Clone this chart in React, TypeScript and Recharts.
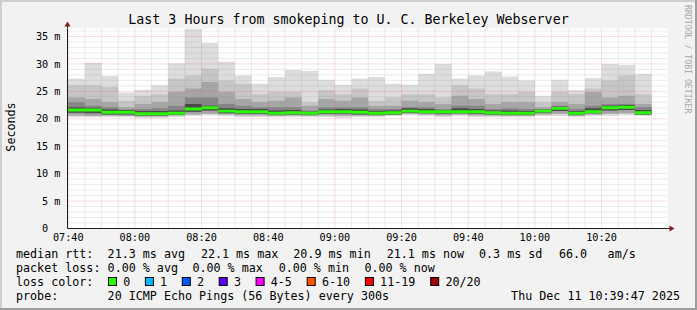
import React from 'react';
import { ComposedChart, Area, XAxis, YAxis, CartesianGrid, ReferenceLine, ReferenceDot } from 'recharts';

// ---- categories (5-minute slots, start of each bar) ----
const slots = [
  '07:40', '07:45', '07:50', '07:55', '08:00', '08:05', '08:10', '08:15', '08:20', '08:25',
  '08:30', '08:35', '08:40', '08:45', '08:50', '08:55', '09:00', '09:05', '09:10', '09:15',
  '09:20', '09:25', '09:30', '09:35', '09:40', '09:45', '09:50', '09:55', '10:00', '10:05',
  '10:10', '10:15', '10:20', '10:25', '10:30',
];
const slotEnd = '10:35';
const graphStart = '07:39:47';
const graphEnd = '10:39:47';

// ---- series (ms) ----
const maxRtt = [27.3, 30.2, 27.8, 24.8, 25.3, 26.1, 30.1, 36.4, 33.8, 30.4, 27.9, 26.4, 27.6, 28.9, 28.7, 27.1, 26.2, 27.3, 27.6, 26.4, 26.2, 28.2, 30.0, 27.3, 27.9, 28.6, 27.7, 27.0, 24.2, 27.1, 25.2, 27.4, 30.0, 29.8, 28.2];
const upper2 = [26.1, 26.1, 25.8, 23.3, 24.2, 24.5, 27.3, 27.9, 29.1, 27.0, 26.4, 24.5, 24.9, 24.9, 23.0, 25.2, 24.5, 25.5, 23.3, 23.9, 24.5, 24.5, 23.9, 26.1, 25.5, 24.5, 24.5, 24.9, 23.0, 24.9, 24.5, 25.5, 27.0, 27.9, 24.5];
const upper3 = [23.9, 23.6, 23.0, 22.1, 22.7, 23.0, 24.9, 25.5, 26.7, 24.9, 23.6, 23.0, 23.3, 23.9, 22.4, 23.6, 23.3, 23.9, 22.4, 22.4, 23.3, 23.0, 22.7, 24.2, 23.6, 22.7, 23.0, 23.0, 22.1, 23.0, 22.7, 24.9, 23.9, 24.2, 22.7];
const upper4 = [23.0, 22.4, 22.1, 21.7, 21.8, 21.9, 22.4, 23.9, 23.9, 22.7, 22.4, 22.1, 22.1, 22.1, 21.5, 22.1, 22.1, 22.1, 21.8, 21.8, 22.1, 22.1, 21.8, 22.4, 22.4, 21.8, 21.9, 21.8, 21.6, 22.4, 21.8, 22.4, 22.7, 22.7, 22.1];
const upper5 = [22.1, 22.0, 21.7, 21.6, 21.4, 21.4, 21.5, 22.7, 22.4, 21.9, 21.8, 21.8, 21.5, 21.6, 21.3, 21.7, 21.8, 21.7, 21.4, 21.5, 21.9, 21.8, 21.6, 21.9, 21.8, 21.5, 21.5, 21.4, 21.7, 22.2, 21.4, 21.9, 22.4, 22.5, 21.6];
const medianRtt = [21.6, 21.6, 21.2, 21.2, 20.9, 20.9, 21.0, 21.8, 22.0, 21.4, 21.3, 21.3, 21.0, 21.1, 21.0, 21.3, 21.3, 21.2, 21.0, 21.1, 21.4, 21.3, 21.3, 21.3, 21.3, 21.1, 21.0, 21.0, 21.4, 21.9, 21.0, 21.3, 22.0, 22.1, 21.1];
const innerRtt = [21.1, 21.0, 20.8, 20.8, 20.6, 20.6, 20.7, 21.3, 21.5, 21.0, 20.9, 20.9, 20.7, 20.8, 20.7, 20.9, 20.9, 20.8, 20.7, 20.8, 21.1, 21.0, 20.9, 21.0, 20.9, 20.8, 20.7, 20.7, 21.1, 21.4, 20.7, 21.0, 21.5, 21.6, 20.8];
const lowerRtt = [20.6, 20.5, 20.6, 20.5, 20.4, 20.4, 20.6, 20.8, 20.9, 20.8, 20.6, 20.6, 20.5, 20.6, 20.5, 20.6, 20.5, 20.6, 20.5, 20.7, 20.9, 20.8, 20.6, 20.8, 20.6, 20.6, 20.5, 20.5, 20.8, 20.9, 20.5, 20.8, 20.9, 21.0, 20.8];
const minRtt = [20.3, 20.3, 20.3, 20.3, 20.1, 20.1, 20.3, 20.5, 20.6, 20.5, 20.3, 20.3, 20.3, 20.3, 20.3, 20.3, 20.1, 20.3, 20.3, 20.5, 20.6, 20.5, 20.3, 20.5, 20.3, 20.3, 20.3, 20.3, 20.5, 20.5, 20.3, 20.5, 20.5, 20.6, 20.5];

// ---- tick labels ----
const xTickLabels = ['07:40', '08:00', '08:20', '08:40', '09:00', '09:20', '09:40', '10:00', '10:20'];
const yTickValues = [0, 5, 10, 15, 20, 25, 30, 35];
const yTickLabels = ['0\u00a0\u00a0', '5 m', '10 m', '15 m', '20 m', '25 m', '30 m', '35 m'];
const yTop = 36.46;

// ---- legend texts ----
const title = 'Last 3 Hours from smokeping to U. C. Berkeley Webserver';
const rttRow = ['median rtt:', '21.3 ms avg', '22.1 ms max', '20.9 ms min', '21.1 ms now', '0.3 ms sd', '66.0', 'am/s'];
const lossRow = ['packet loss:', '0.00 % avg', '0.00 % max', '0.00 % min', '0.00 % now'];
const lossLabels = ['0', '1', '2', '3', '4-5', '6-10', '11-19', '20/20'];
const lossColors = ['#26ff00', '#00b8ff', '#0059ff', '#5e00ff', '#ff00ff', '#ff5500', '#ff0000', '#a10000'];
const probeText = '20 ICMP Echo Pings (56 Bytes) every 300s';
const dateText = 'Thu Dec 11 10:39:47 2025';

const FONT = '"DejaVu Sans Mono", monospace';

function toMin(s: string) {
  const p = s.split(':').map(Number);
  return p[0] * 60 + p[1] + (p[2] || 0) / 60;
}

const xMin = toMin(graphStart);
const xMax = toMin(graphEnd);

const rows: any[] = slots.map((s, i) => ({
  t: toMin(s),
  A: [minRtt[i], maxRtt[i]],
  B: [lowerRtt[i], upper2[i]],
  C: [lowerRtt[i], upper3[i]],
  D: [innerRtt[i], upper4[i]],
  E: [innerRtt[i], upper5[i]],
  G: [medianRtt[i] - 0.27, medianRtt[i] + 0.27],
}));
rows.push({ ...rows[rows.length - 1], t: toMin(slotEnd) });

const xTicks = xTickLabels.map(toMin);
const allSlotMins = [...slots, slotEnd].map(toMin);
const xMinor = allSlotMins.filter((m) => !xTicks.some((t) => Math.abs(t - m) < 0.01));
const yMinor: number[] = [];
for (let v = 1; v < yTop; v++) if (v % 5 !== 0) yMinor.push(v);
const yMajor = yTickValues.filter((v) => v > 0);

const GRID = '#8f8f8f';
const MGRID = '#de4f4f';

const XArrow = (p: any) => {
  const { cx, cy } = p;
  return (
    <g>
      <line x1={cx} y1={cy} x2={cx + 3} y2={cy} stroke="#1f1f1f" strokeWidth={1} />
      <polygon points={`${cx + 2},${cy - 3} ${cx + 7},${cy} ${cx + 2},${cy + 3}`} fill="#801f1f" />
    </g>
  );
};
const YArrow = (p: any) => {
  const { cx, cy } = p;
  return (
    <g>
      <line x1={cx} y1={cy} x2={cx} y2={cy - 3} stroke="#1f1f1f" strokeWidth={1} />
      <polygon points={`${cx - 3},${cy - 2} ${cx},${cy - 7} ${cx + 3},${cy - 2}`} fill="#801f1f" />
    </g>
  );
};

const YTick = (p: any) => {
  const idx = yTickValues.indexOf(p.payload.value);
  return (
    <text x={p.x} y={p.y} dy="0.355em" textAnchor="end" fontFamily={FONT} fontSize={10.2} fill="#000" style={{ whiteSpace: 'pre' }}>
      {idx >= 0 ? yTickLabels[idx] : ''}
    </text>
  );
};

const xLabelFor = (v: number) => {
  const i = xTicks.findIndex((t) => Math.abs(t - v) < 0.01);
  return i >= 0 ? xTickLabels[i] : '';
};

export default function App() {
  const charW = 7.1;
  let bx = 108;
  const lossItems = lossLabels.map((l, i) => {
    const boxX = bx;
    const labelX = boxX + 15.2;
    bx = labelX + l.length * charW + 14.6;
    return { l, c: lossColors[i], boxX, labelX };
  });
  const rttX = [16, 107.6, 200.9, 293.3, 386.7, 479, 559, 607.6];
  const lossX = [16, 107.6, 192.4, 278.7, 364.4];
  const textProps = { fontFamily: FONT, fontSize: 11.7, fill: '#000' };
  return (
    <div style={{ position: 'absolute', left: 0, top: 0, width: 697, height: 310, background: '#f2f2f2', overflow: 'hidden' }}>
      <svg width={697} height={310} style={{ position: 'absolute', left: 0, top: 0 }}>
        <rect x={0} y={0} width={697} height={310} fill="#f2f2f2" />
        <rect x={0} y={0} width={697} height={2} fill="#cfcfcf" />
        <rect x={0} y={0} width={2} height={310} fill="#cfcfcf" />
        <rect x={0} y={308} width={697} height={2} fill="#9e9e9e" />
        <rect x={695} y={0} width={2} height={310} fill="#9e9e9e" />
      </svg>
      <div style={{ position: 'absolute', left: 0, top: 0 }}>
        <ComposedChart width={697} height={310} data={rows} margin={{ top: 28.5, right: 29.5, bottom: 0, left: 0 }}>
          <CartesianGrid horizontal={false} vertical={false} fill="#ffffff" stroke="none" />
          <XAxis
            type="number"
            dataKey="t"
            domain={[xMin, xMax]}
            allowDataOverflow
            ticks={xTicks}
            tickFormatter={xLabelFor}
            height={81.5}
            axisLine={{ stroke: '#1f1f1f' }}
            tickLine={false}
            tickSize={0}
            tickMargin={5}
            interval={0}
            tick={{ fontFamily: FONT, fontSize: 10.2, fill: '#000' }}
          />
          <YAxis
            type="number"
            domain={[0, yTop]}
            allowDataOverflow
            ticks={yTickValues}
            width={67.5}
            axisLine={{ stroke: '#1f1f1f' }}
            tickLine={false}
            tickSize={0}
            tickMargin={7}
            interval={0}
            tick={<YTick />}
          />
          <Area dataKey="A" type="stepAfter" stroke="none" fill="#dddddd" fillOpacity={1} isAnimationActive={false} dot={false} activeDot={false} />
          <Area dataKey="B" type="stepAfter" stroke="none" fill="#c6c6c6" fillOpacity={1} isAnimationActive={false} dot={false} activeDot={false} />
          <Area dataKey="C" type="stepAfter" stroke="none" fill="#a6a6a6" fillOpacity={1} isAnimationActive={false} dot={false} activeDot={false} />
          <Area dataKey="D" type="stepAfter" stroke="none" fill="#858585" fillOpacity={1} isAnimationActive={false} dot={false} activeDot={false} />
          <Area dataKey="E" type="stepAfter" stroke="none" fill="#4a4a4a" fillOpacity={1} isAnimationActive={false} dot={false} activeDot={false} />
          <Area dataKey="G" type="stepAfter" stroke="none" fill="#26ff00" fillOpacity={1} isAnimationActive={false} dot={false} activeDot={false} />
          {yMinor.map((v) => (
            <ReferenceLine key={'hy' + v} y={v} stroke={GRID} strokeOpacity={0.35} strokeDasharray="1 1" />
          ))}
          {xMinor.map((v) => (
            <ReferenceLine key={'vx' + v} x={v} stroke={GRID} strokeOpacity={0.35} strokeDasharray="1 1" />
          ))}
          {yMajor.map((v) => (
            <ReferenceLine key={'HY' + v} y={v} stroke={MGRID} strokeOpacity={0.38} strokeDasharray="1 1" />
          ))}
          {xTicks.map((v) => (
            <ReferenceLine key={'VX' + v} x={v} stroke={MGRID} strokeOpacity={0.38} strokeDasharray="1 1" />
          ))}
          <ReferenceDot x={xMax} y={0} r={0} ifOverflow="visible" shape={<XArrow />} />
          <ReferenceDot x={xMin} y={yTop} r={0} ifOverflow="visible" shape={<YArrow />} />
        </ComposedChart>
      </div>
      <svg width={697} height={310} style={{ position: 'absolute', left: 0, top: 0, pointerEvents: 'none' }}>
        <text x={348.5} y={24} textAnchor="middle" fontFamily={FONT} fontSize={13.3} fill="#000">{title}</text>
        <text x={684.5} y={5} transform="rotate(90 684.5 5)" fontFamily={FONT} fontSize={8.2} fill="#a8a8a8">RRDTOOL / TOBI OETIKER</text>
        <text x={15} y={127} transform="rotate(-90 15 127)" textAnchor="middle" fontFamily={FONT} fontSize={11.7} fill="#000">Seconds</text>
        {rttRow.map((s, i) => (
          <text key={'r' + i} x={rttX[i]} y={258} {...textProps}>{s}</text>
        ))}
        {lossRow.map((s, i) => (
          <text key={'l' + i} x={lossX[i]} y={272} {...textProps}>{s}</text>
        ))}
        <text x={16} y={286} {...textProps}>loss color:</text>
        {lossItems.map((it, i) => (
          <g key={'c' + i}>
            <rect x={it.boxX + 0.5} y={277.5} width={8} height={8} fill={it.c} stroke="#000" strokeWidth={1} />
            <text x={it.labelX} y={286} {...textProps}>{it.l}</text>
          </g>
        ))}
        <text x={16} y={300} {...textProps}>probe:</text>
        <text x={107.6} y={300} {...textProps}>{probeText}</text>
        <text x={680} y={300} textAnchor="end" {...textProps}>{dateText}</text>
      </svg>
    </div>
  );
}
